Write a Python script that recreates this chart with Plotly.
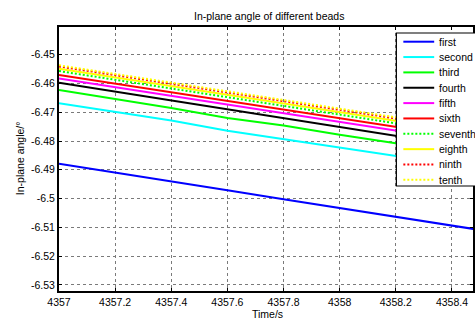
import plotly.graph_objects as go

# ---------------- data ----------------
time_s = [4357.0, 4357.2, 4357.4, 4357.6, 4357.8, 4358.0, 4358.2, 4358.4, 4358.5]

first   = [-6.4879, -6.4909, -6.4940, -6.4971, -6.5002, -6.5033, -6.5063, -6.5094, -6.5109]
second  = [-6.4669, -6.4699, -6.4729, -6.4764, -6.4793, -6.4822, -6.4851, -6.4881, -6.4896]
third   = [-6.4623, -6.4654, -6.4685, -6.4720, -6.4746, -6.4778, -6.4807, -6.4837, -6.4852]
fourth  = [-6.4598, -6.4629, -6.4660, -6.4691, -6.4722, -6.4752, -6.4782, -6.4813, -6.4828]
fifth   = [-6.4583, -6.4613, -6.4643, -6.4674, -6.4704, -6.4734, -6.4764, -6.4794, -6.4809]
sixth   = [-6.4571, -6.4601, -6.4631, -6.4661, -6.4691, -6.4721, -6.4751, -6.4781, -6.4796]
seventh = [-6.4557, -6.4587, -6.4618, -6.4648, -6.4678, -6.4709, -6.4739, -6.4769, -6.4784]
eighth  = [-6.4549, -6.4579, -6.4609, -6.4640, -6.4670, -6.4700, -6.4730, -6.4760, -6.4775]
ninth   = [-6.4541, -6.4571, -6.4601, -6.4632, -6.4662, -6.4692, -6.4722, -6.4752, -6.4767]
tenth   = [-6.4537, -6.4567, -6.4597, -6.4628, -6.4658, -6.4688, -6.4718, -6.4748, -6.4763]

series_names = ["first", "second", "third", "fourth", "fifth",
                "sixth", "seventh", "eighth", "ninth", "tenth"]
series_values = [first, second, third, fourth, fifth,
                 sixth, seventh, eighth, ninth, tenth]

x_tickvals = [4357.0, 4357.2, 4357.4, 4357.6, 4357.8, 4358.0, 4358.2, 4358.4]
x_ticktext = ["4357", "4357.2", "4357.4", "4357.6", "4357.8", "4358", "4358.2", "4358.4"]
y_tickvals = [-6.45, -6.46, -6.47, -6.48, -6.49, -6.50, -6.51, -6.52, -6.53]
y_ticktext = ["-6.45", "-6.46", "-6.47", "-6.48", "-6.49", "-6.5", "-6.51", "-6.52", "-6.53"]

# ---------------- styles ----------------
colors = ["#0000ff", "#00ffff", "#00ff00", "#000000", "#ff00ff",
          "#ff0000", "#00ff00", "#ffff00", "#ff0000", "#ffff00"]
DOT = "2px,2px"
dashes = ["solid", "solid", "solid", "solid", "solid",
          "solid", DOT, "solid", DOT, DOT]

W, H = 475, 320
L, R, T, B = 59, 0, 27, 29
FONT = "Liberation Sans, Arial, sans-serif"
FS = 10.5

pw = W - L - R
ph = H - T - B


def px_x(px):
    return (px - L) / pw


def px_y(py):
    return (H - B - py) / ph


fig = go.Figure()
for name, vals, c, d in zip(series_names, series_values, colors, dashes):
    fig.add_trace(go.Scatter(x=time_s, y=vals, mode="lines", name=name,
                             line=dict(color=c, width=2, dash=d),
                             showlegend=False))

axis_common = dict(
    showline=True, linecolor="black", linewidth=2, mirror="ticks",
    ticks="inside", ticklen=3, tickcolor="black", tickwidth=1,
    showgrid=True, gridcolor="#7a7a7a", griddash="dot", gridwidth=1,
    zeroline=False, tickfont=dict(family=FONT, size=FS, color="black"),
)

fig.update_layout(
    width=W, height=H,
    margin=dict(l=L, r=R, t=T, b=B, pad=0),
    paper_bgcolor="white", plot_bgcolor="white",
    xaxis=dict(range=[4357.0, 4358.475], tickvals=x_tickvals, ticktext=x_ticktext,
               **axis_common),
    yaxis=dict(range=[-6.5321, -6.4404], tickvals=y_tickvals, ticktext=y_ticktext,
               **axis_common),
    showlegend=False,
)

annotations = [
    dict(text="In-plane angle of different beads", x=px_x(270), y=px_y(15.7),
         xref="paper", yref="paper", xanchor="center", yanchor="middle",
         showarrow=False, font=dict(family=FONT, size=FS, color="black")),
    dict(text="Time/s", x=px_x(269), y=px_y(313.5),
         xref="paper", yref="paper", xanchor="center", yanchor="middle",
         showarrow=False, font=dict(family=FONT, size=FS, color="black")),
    dict(text="In-plane angle/°", x=px_x(20), y=px_y(158), textangle=-90,
         xref="paper", yref="paper", xanchor="center", yanchor="middle",
         showarrow=False, font=dict(family=FONT, size=FS, color="black")),
]

# legend box (drawn to mimic the original's compact legend)
shapes = [dict(type="rect", xref="paper", yref="paper",
               x0=px_x(398), x1=px_x(520), y0=px_y(186), y1=px_y(33),
               fillcolor="white", line=dict(color="black", width=1.2),
               layer="above")]
for i, (name, c, d) in enumerate(zip(series_names, colors, dashes)):
    yc = 41.7 + i * 15.35
    shapes.append(dict(type="line", xref="paper", yref="paper",
                       x0=px_x(405), x1=px_x(436), y0=px_y(yc), y1=px_y(yc),
                       line=dict(color=c, width=2, dash=d), layer="above"))
    annotations.append(dict(text=name, x=px_x(440), y=px_y(yc),
                            xref="paper", yref="paper", xanchor="left",
                            yanchor="middle", showarrow=False, borderpad=0,
                            font=dict(family=FONT, size=FS, color="black")))

fig.update_layout(shapes=shapes, annotations=annotations)
fig.write_html("out.html")
